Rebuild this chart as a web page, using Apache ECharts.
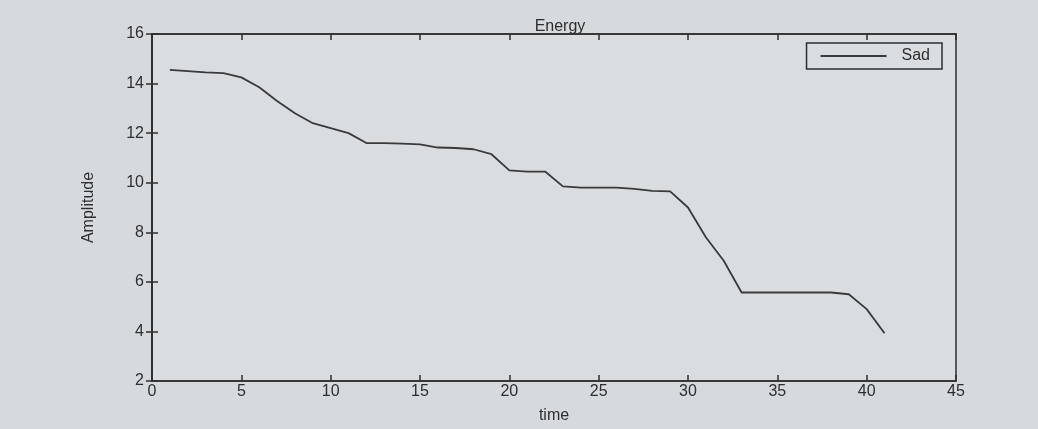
<!DOCTYPE html>
<html>
<head>
<meta charset="utf-8">
<script src="https://cdn.jsdelivr.net/npm/echarts@6/dist/echarts.min.js"></script>
<style>
  html, body { margin: 0; padding: 0; background: #cfd3d6; }
  #main { width: 1038px; height: 429px; }
</style>
</head>
<body>
<div id="main"></div>
<script>
// time steps and the "Sad" energy curve
const timeSteps = [1,2,3,4,5,6,7,8,9,10,11,12,13,14,15,16,17,18,19,20,21,22,23,24,25,26,27,28,29,30,31,32,33,34,35,36,37,38,39,40,41];
const sadValues = [14.55,14.5,14.45,14.42,14.25,13.85,13.3,12.8,12.4,12.2,12.0,11.6,11.6,11.58,11.55,11.42,11.4,11.35,11.15,10.5,10.45,10.45,9.85,9.8,9.8,9.8,9.75,9.67,9.65,9.0,7.8,6.85,5.57,5.57,5.57,5.57,5.57,5.57,5.5,4.9,3.93];
const xTicks = [0, 45, 5];   // min, max, step
const yTicks = [2, 16, 2];

const chart = echarts.init(document.getElementById("main"));

const font = "Liberation Sans";
const ink = "#2e2e2e";

const axisCommon = {
  axisLine: { show: true, lineStyle: { color: ink, width: 1.5 } },
  axisTick: { show: true, inside: true, length: 6, lineStyle: { color: ink, width: 1.5 } },
  splitLine: { show: false }
};

chart.setOption({
  backgroundColor: "#d6dadd",
  animation: false,
  textStyle: { fontFamily: font },
  title: {
    text: "Energy",
    left: 555,
    top: 14,
    textAlign: "center",
    textStyle: { fontFamily: font, fontSize: 16, fontWeight: "normal", color: ink }
  },
  legend: {
    data: [{ name: "Sad", icon: "rect" }],
    right: 96,
    top: 43,
    itemWidth: 66,
    itemHeight: 2,
    padding: [5, 12, 5, 14],
    borderColor: ink,
    borderWidth: 1.5,
    backgroundColor: "#d9dde0",
    borderRadius: 0,
    textStyle: { fontFamily: font, fontSize: 16, color: ink, padding: [0, 0, 0, 10] }
  },
  grid: {
    left: 152,
    right: 82,
    top: 34,
    bottom: 47,
    show: true,
    borderColor: ink,
    borderWidth: 1.5,
    backgroundColor: "#d9dde0"
  },
  xAxis: [
    Object.assign({
      type: "value",
      min: xTicks[0],
      max: xTicks[1],
      interval: xTicks[2],
      name: "time",
      nameLocation: "middle",
      nameGap: 27,
      nameTextStyle: { fontFamily: font, fontSize: 16, color: ink },
      axisLabel: { fontFamily: font, fontSize: 16, color: ink, margin: 3 }
    }, axisCommon),
    Object.assign({
      type: "value",
      position: "top",
      min: xTicks[0],
      max: xTicks[1],
      interval: xTicks[2],
      axisLabel: { show: false }
    }, axisCommon)
  ],
  yAxis: [
    Object.assign({
      type: "value",
      min: yTicks[0],
      max: yTicks[1],
      interval: yTicks[2],
      name: "Amplitude",
      nameLocation: "middle",
      nameGap: 55,
      nameTextStyle: { fontFamily: font, fontSize: 16, color: ink },
      axisLabel: { fontFamily: font, fontSize: 16, color: ink, margin: 8 }
    }, axisCommon),
    Object.assign({
      type: "value",
      position: "right",
      min: yTicks[0],
      max: yTicks[1],
      interval: yTicks[2],
      axisLabel: { show: false }
    }, axisCommon)
  ],
  series: [{
    name: "Sad",
    type: "line",
    data: timeSteps.map((t, i) => [t, sadValues[i]]),
    showSymbol: false,
    symbol: "none",
    lineStyle: { color: "#3a3a3a", width: 1.8 },
    itemStyle: { color: "#3a3a3a" }
  }]
});
</script>
</body>
</html>
